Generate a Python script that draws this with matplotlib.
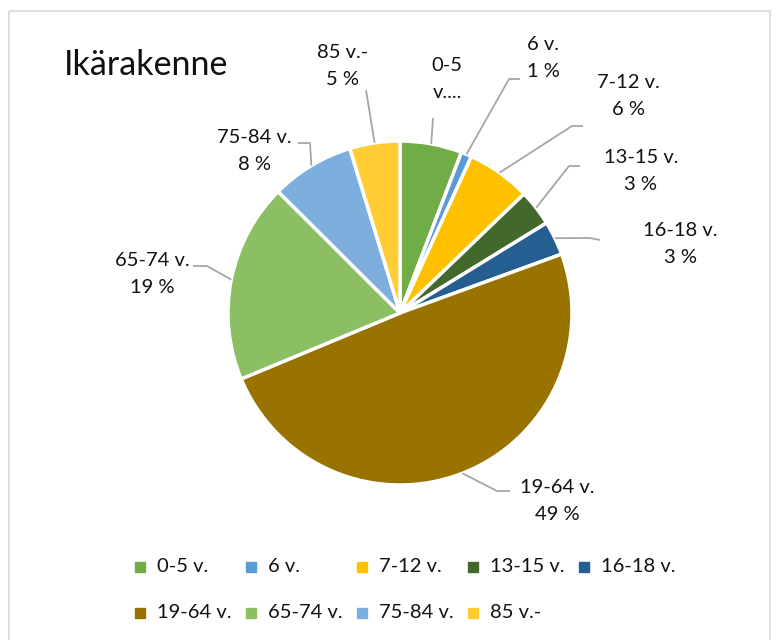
import numpy as np
import matplotlib.pyplot as plt
from matplotlib.patches import Rectangle

# Data
labels = ["0-5 v.", "6 v.", "7-12 v.", "13-15 v.", "16-18 v.",
          "19-64 v.", "65-74 v.", "75-84 v.", "85 v.-"]
values = [5.8, 1.0, 6.0, 3.4, 3.2, 49.2, 18.7, 7.8, 4.7]
pct_text = ["6 %", "1 %", "6 %", "3 %", "3 %", "49 %", "19 %", "8 %", "5 %"]
colors = ["#70AD47", "#5B9BD5", "#FFC000", "#43682B", "#255E91",
          "#997300", "#8CBF63", "#7CAFDD", "#FFCD33"]

plt.rcParams['font.family'] = ['Lato', 'DejaVu Sans']

W, H = 781, 640
fig = plt.figure(figsize=(W / 100, H / 100), dpi=100)
ax = fig.add_axes([0, 0, 1, 1])

# chart border
ax.add_patch(Rectangle((9, 11), 761, 640, fill=False, ec="#D9D9D9", lw=1.2))

ax.text(64, 65, "Ikärakenne", fontsize=24.5, va='center', ha='left', color="#111111")

# pie in pixel coordinates (y axis inverted -> counterclock flips)
cx, cy, r = 400, 313, 172
wedges, _ = ax.pie(values, colors=colors, startangle=-90, counterclock=True,
                   center=(cx, cy), radius=r, frame=True,
                   wedgeprops=dict(edgecolor="white", linewidth=2.5))
ax.set_xlim(0, W)
ax.set_ylim(H, 0)
ax.set_aspect('equal')
ax.axis('off')

# label layout (text centre, leader elbow points)
label_pos = [(447, 79), (543, 58), (628, 96), (641, 171), (680, 244),
             (557, 501), (152, 274), (254, 151), (343, 66)]
elbows = [[(433, 118)], [(520, 79), (509, 79)], [(583, 126), (572, 126)],
          [(580, 166), (569, 166)], [(600, 240), (590, 238)],
          [(510, 491), (497, 491)], [(193, 266), (207, 266)],
          [(298, 143), (310, 143)], [(366, 90)]]
label_txt = [labels[i] + "\n" + pct_text[i] for i in range(len(labels))]
label_txt[0] = "0-5\nv...."

for i, w in enumerate(wedges):
    th = np.deg2rad((w.theta1 + w.theta2) / 2)
    ax_pt = (cx + r * np.cos(th), cy + r * np.sin(th))
    pts = elbows[i] + [ax_pt]
    xs, ys = zip(*pts)
    ax.plot(xs, ys, color="#A6A6A6", lw=1.3, solid_capstyle='butt')
    ax.text(label_pos[i][0], label_pos[i][1], label_txt[i], fontsize=14.5,
            ha='center', va='center', linespacing=1.65, color="#111111")

# legend: Excel-style grid, 5 equal columns, row-major
leg_x0, leg_dx = 140, 111
leg_rows = [567, 613]
for i, lab in enumerate(labels):
    col, row = i % 5, i // 5
    x, y = leg_x0 + col * leg_dx, leg_rows[row]
    ax.plot([x], [y], marker='s', ms=6.5, mfc=colors[i], mec=colors[i], ls='')
    ax.text(x + 17, y, lab, fontsize=14.5, va='center', ha='left', color="#111111")

plt.savefig("out.png", dpi=100)
